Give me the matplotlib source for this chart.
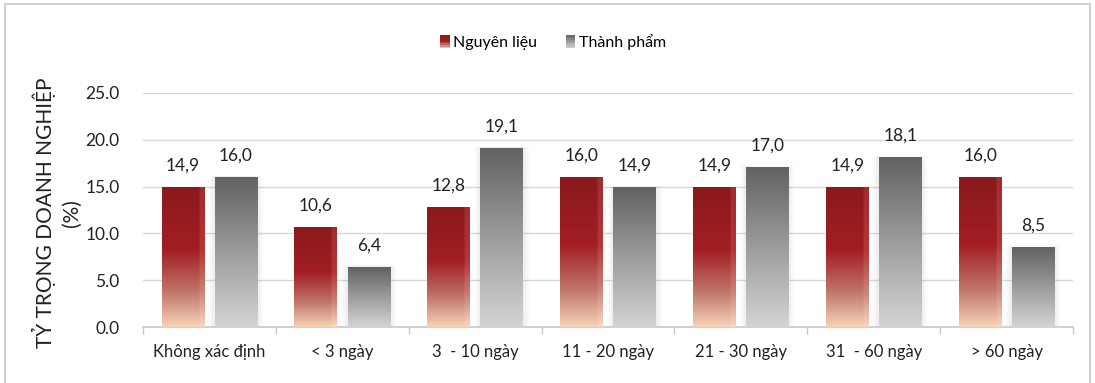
import numpy as np
import matplotlib
matplotlib.use("Agg")
import matplotlib.pyplot as plt
from matplotlib.colors import LinearSegmentedColormap
from matplotlib.patches import Rectangle
from matplotlib.legend_handler import HandlerBase

plt.rcParams['font.family'] = ['Lato', 'DejaVu Sans']

categories = ["Không xác định", "< 3 ngày", "3  - 10 ngày", "11 - 20 ngày",
              "21 - 30 ngày", "31  - 60 ngày", "> 60 ngày"]
nguyen_lieu = [14.9, 10.6, 12.8, 16.0, 14.9, 14.9, 16.0]
thanh_pham = [16.0, 6.4, 19.1, 14.9, 17.0, 18.1, 8.5]
series_names = ["Nguyên liệu", "Thành phẩm"]
yticks = [0, 5, 10, 15, 20, 25]

red_cmap = LinearSegmentedColormap.from_list(
    "redg", [(0.0, "#F6D2B6"), (0.25, "#C0766A"), (0.55, "#A21E22"), (1.0, "#8A1A1D")])
red_cmap_edge = LinearSegmentedColormap.from_list(
    "rede", [(0.0, "#F8D8C2"), (0.25, "#C98478"), (0.55, "#B43636"), (1.0, "#A02C30")])
gray_cmap = LinearSegmentedColormap.from_list(
    "grayg", [(0.0, "#D4D4D4"), (0.5, "#9C9C9C"), (1.0, "#626262")])

fig = plt.figure(figsize=(10.95, 3.83), dpi=100)
ax = fig.add_axes([0.1306, 0.1462, 0.8494, 0.611])

x = np.arange(len(categories))
w = 0.32
off = 0.2
b1 = ax.bar(x - off, nguyen_lieu, w, color="none", zorder=3)
b2 = ax.bar(x + off, thanh_pham, w, color="none", zorder=3)

grad = np.linspace(1, 0, 256).reshape(-1, 1)

def fill_bar(bar, cmap, edge_cmap=None, glow=False):
    x0, y0 = bar.get_x(), bar.get_y()
    bw, bh = bar.get_width(), bar.get_height()
    if glow:
        for k, a in [(0.05, 0.025), (0.035, 0.035), (0.02, 0.05)]:
            ax.add_patch(Rectangle((x0 - k, y0), bw + 2 * k, bh + k * 5,
                                   facecolor="#808080", alpha=a, lw=0, zorder=2))
    if edge_cmap is not None:
        main = cmap(grad[:, 0])
        edge = edge_cmap(grad[:, 0])
        ncol = 40
        img = np.repeat(main[:, None, :], ncol, axis=1)
        img[:, -5:, :] = edge[:, None, :]
    else:
        img = cmap(np.repeat(grad, 10, axis=1))
    ax.imshow(img, extent=[x0, x0 + bw, y0, y0 + bh], aspect="auto",
              interpolation="bilinear", zorder=3)

for bar in b1:
    fill_bar(bar, red_cmap, red_cmap_edge)
for bar in b2:
    fill_bar(bar, gray_cmap, glow=True)

fmt = lambda v: f"{v:.1f}".replace(".", ",")
ax.bar_label(b1, labels=[fmt(v) for v in nguyen_lieu], padding=10, fontsize=12.5, color="#222222")
ax.bar_label(b2, labels=[fmt(v) for v in thanh_pham], padding=10, fontsize=12.5, color="#222222")

ax.set_xlim(-0.5, len(categories) - 0.5)
ax.set_ylim(0, 25)
ax.set_yticks(yticks)
ax.set_yticklabels([f"{v:.1f}" for v in yticks], fontsize=12.5, color="#222222")
ax.set_xticks(x)
ax.set_xticklabels(categories, fontsize=12, color="#222222")
ax.tick_params(axis="x", length=0, pad=12)
ax.tick_params(axis="y", length=0, pad=17)
ax.set_xticks(np.arange(-0.5, len(categories)), minor=True)
ax.tick_params(axis="x", which="minor", length=5, color="#C8C8C8", width=1)
ax.grid(axis="y", color="#D9D9D9", lw=1, zorder=0)
ax.set_axisbelow(True)
for s in ["top", "right", "left"]:
    ax.spines[s].set_visible(False)
ax.spines["bottom"].set_color("#C8C8C8")
ax.spines["bottom"].set_linewidth(1.2)

ax.set_ylabel("TỶ TRỌNG DOANH NGHIỆP\n(%)", fontsize=15, color="#222222",
              linespacing=1.35)
ax.yaxis.set_label_coords(-0.066, 0.489)

class GradHandler(HandlerBase):
    def __init__(self, cmap):
        super().__init__()
        self.cmap = cmap
    def create_artists(self, legend, orig_handle, xdescent, ydescent, width, height, fontsize, trans):
        arts = []
        n = 8
        for i in range(n):
            c = self.cmap(1 - (i + 0.5) / n)
            r = Rectangle((-xdescent, -ydescent + height * (n - 1 - i) / n), width, height / n,
                          facecolor=c, lw=0, transform=trans)
            arts.append(r)
        return arts

h1 = Rectangle((0, 0), 1, 1)
h2 = Rectangle((0, 0), 1, 1)
leg = fig.legend([h1, h2], series_names, loc="center", bbox_to_anchor=(0.505, 0.89),
                 ncol=2, frameon=False, fontsize=11.5, handlelength=0.6, handleheight=0.9,
                 handletextpad=0.2, columnspacing=1.8,
                 handler_map={h1: GradHandler(red_cmap), h2: GradHandler(gray_cmap)})

fig.patches.append(Rectangle((0.005, -0.05), 0.99, 1.04, transform=fig.transFigure,
                             fill=False, edgecolor="#C8C8C8", lw=1.2))

fig.savefig("out.png", dpi=100)
